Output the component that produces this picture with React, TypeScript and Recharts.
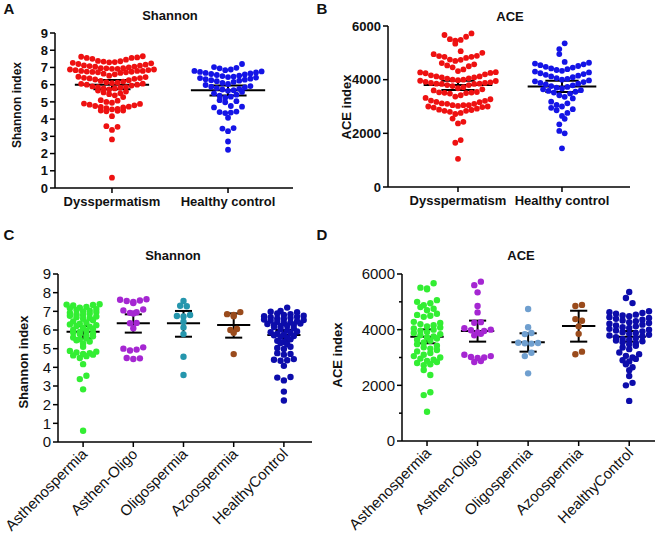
import React from 'react';
import { ScatterChart, Scatter, XAxis, YAxis, ReferenceLine } from 'recharts';

const FONT = '"Liberation Sans", Arial, Helvetica, sans-serif';

// ---------------- DATA ----------------
const topGroups = ['Dysspermatism', 'Healthy control'];
const bottomGroups = ['Asthenospermia', 'Asthen-Oligo', 'Oligospermia', 'Azoospermia', 'HealthyControl'];

// Shannon index per sub-group
const shannonAstheno = [
  7.38, 7.36, 7.34, 7.31,
  7.24, 7.2, 7.16, 7.12, 7.08, 7.04, 7.0, 6.96, 6.92, 6.88, 6.84, 6.8, 6.76, 6.72, 6.68, 6.64, 6.6,
  6.52, 6.46, 6.4, 6.34, 6.3, 6.26, 6.22, 6.18, 6.12, 6.06, 6.0, 5.95, 5.9, 5.86, 5.82, 5.78, 5.72, 5.66, 5.6, 5.55, 5.5, 5.45, 5.38,
  5.28, 5.1,
  4.88, 4.84, 4.8, 4.76, 4.72, 4.68, 4.64, 4.6,
  4.5, 4.17, 3.55, 3.37, 2.82, 0.6,
];
const shannonAsthenOligo = [
  7.65, 7.62, 7.58, 7.55, 7.5, 7.45,
  7.1, 7.05, 6.95, 6.92, 6.88,
  6.38, 6.36, 6.09,
  5.07, 5.0, 4.95, 4.9,
  4.5, 4.48, 4.45,
];
const shannonOligo = [7.55, 7.3, 7.27, 6.8, 6.75, 6.72, 6.44, 6.14, 5.78, 4.57, 3.59];
const shannonAzoo = [6.96, 6.85, 6.8, 6.74, 6.05, 6.0, 5.85, 4.71];
const shannonHealthy = [
  7.2, 7.02, 6.98, 6.95,
  6.88, 6.84, 6.8, 6.77, 6.74, 6.71, 6.68, 6.65, 6.62, 6.59, 6.56, 6.53, 6.5, 6.47, 6.44, 6.41, 6.38, 6.35, 6.32, 6.29, 6.26, 6.23, 6.2,
  6.16, 6.1, 6.04, 5.98, 5.92, 5.88, 5.84, 5.8, 5.76, 5.72, 5.68, 5.64, 5.58, 5.5, 5.42, 5.36, 5.3, 5.24,
  5.1, 5.04, 4.98,
  4.76, 4.72, 4.68,
  4.44, 4.41, 4.38, 4.35,
  4.08, 3.48, 3.45, 3.3, 2.7, 2.22,
];

// ACE index per sub-group
const aceAstheno = [
  5665, 5510, 5480, 5450,
  5060, 5000, 4950, 4880, 4810, 4750, 4700,
  4570, 4530, 4500, 4460,
  4280, 4240, 4200, 4160, 4120, 4080, 4040, 4000, 3960, 3920, 3880, 3840, 3800, 3760, 3720, 3680, 3640, 3600,
  3540, 3480, 3420, 3370, 3320, 3270, 3220, 3160, 3100, 3050, 3000, 2960, 2920, 2880, 2840, 2800, 2760, 2720,
  2550, 2370, 1750, 1650, 1050,
];
const aceAsthenOligo = [
  5725, 5600, 5340, 4850, 4620, 4270, 4250,
  4050, 4000, 3980, 3950, 3900, 3850, 3800,
  3100, 3050, 3000, 2980, 3020, 2870, 2840,
];
const aceOligo = [4740, 4085, 3880, 3840, 3520, 3510, 3530, 3500, 3050, 3170, 2430];
const aceAzoo = [4890, 4850, 4380, 4320, 4120, 3850, 3210, 3115];
const aceHealthy = [
  5355, 5140, 4955,
  4660, 4630, 4600, 4570, 4540, 4510, 4480, 4450, 4420, 4390, 4360, 4330, 4300, 4270, 4240, 4210, 4180, 4150, 4120,
  4090, 4060, 4030, 4000, 3970, 3940, 3910, 3880, 3850, 3820, 3790, 3760, 3730, 3700, 3670, 3640, 3610, 3580, 3550, 3520,
  3480, 3420, 3360, 3300,
  3180, 3120, 3060, 3000, 2950, 2900, 2860,
  2760, 2650, 2540,
  2335, 2090, 2000, 1440,
];

// Mean and 95% CI
const shannonTopMean = [6.0, 5.67];
const shannonTopLow = [5.73, 5.37];
const shannonTopHigh = [6.27, 5.95];
const aceTopMean = [3800, 3750];
const aceTopLow = [3615, 3540];
const aceTopHigh = [3960, 3960];
const shannonBottomMean = [5.9, 6.36, 6.36, 6.27, 5.73];
const shannonBottomLow = [5.55, 5.86, 5.64, 5.59, 5.41];
const shannonBottomHigh = [6.21, 6.84, 7.02, 6.89, 6.0];
const aceBottomMean = [3750, 3950, 3545, 4130, 3750];
const aceBottomLow = [3510, 3570, 3210, 3570, 3570];
const aceBottomHigh = [4010, 4325, 3870, 4680, 3950];

const shannonTicks = [0, 1, 2, 3, 4, 5, 6, 7, 8, 9];
const aceTicksTop = [0, 2000, 4000, 6000];
const aceTicksBottom = [0, 1000, 2000, 3000, 4000, 5000, 6000];

// ---------------- LAYOUT HELPERS ----------------
// Row-binned scatter (dot-plot) layout: values within binH pixels share a row,
// spread sideways with the lowest value in the middle.
function swarm(values: number[], group: number, pxPerY: number, pxPerX: number, spacing: number, binH: number) {
  const sorted = [...values].sort((a, b) => b - a);
  const rows: number[][] = [];
  let cur: number[] = [];
  for (const v of sorted) {
    if (cur.length && (cur[0] - v) * pxPerY > binH) {
      rows.push(cur);
      cur = [];
    }
    cur.push(v);
  }
  if (cur.length) rows.push(cur);
  const pts: { x: number; y: number }[] = [];
  rows.forEach((row, ri) => {
    const n = row.length;
    const slots = Array.from({ length: n }, (_, k) => (k - (n - 1) / 2) * spacing);
    const sgn = ri % 2 === 0 ? 1 : -1;
    slots.sort((a, b) => Math.abs(a) - Math.abs(b) || sgn * (a - b));
    const asc = [...row].sort((a, b) => a - b);
    asc.forEach((v, i) => pts.push({ x: group + slots[i] / pxPerX, y: v }));
  });
  return pts;
}

type PanelCfg = {
  left: number; top: number; width: number; height: number;
  yAxisW: number; xAxisH: number; mTop: number; mRight: number; mBottom: number;
  xDomain: [number, number]; yMax: number; yTicks: number[]; majorEvery: number;
  labels: string[]; rotated: boolean; bold: boolean; tickFont: number;
  dotR: number; spacing: number; binH: number; meanHalf: number; capHalf: number;
};

function Panel({ cfg, groups, colors, mean, low, high }: {
  cfg: PanelCfg; groups: number[][]; colors: string[]; mean: number[]; low: number[]; high: number[];
}) {
  const plotW = cfg.width - cfg.yAxisW - cfg.mRight;
  const plotH = cfg.height - cfg.mTop - cfg.mBottom - cfg.xAxisH;
  const pxPerX = plotW / (cfg.xDomain[1] - cfg.xDomain[0]);
  const pxPerY = plotH / cfg.yMax;
  const PL = cfg.yAxisW;
  const axisY = cfg.mTop + plotH;
  const weight = cfg.bold ? 'bold' : 'normal';

  const yTick = (p: any) => {
    const v = p.payload.value;
    const major = v % cfg.majorEvery === 0;
    return (
      <g>
        <line x1={PL} x2={PL - (major ? 5 : 3)} y1={p.y} y2={p.y} stroke="#000" strokeWidth={1.5} />
        {major && (
          <text x={PL - 7} y={p.y} dy="0.36em" textAnchor="end" fontFamily={FONT} fontSize={cfg.tickFont} fontWeight={weight} fill="#111">
            {v}
          </text>
        )}
      </g>
    );
  };
  const xTick = (p: any) => {
    const label = cfg.labels[p.payload.value];
    if (cfg.rotated) {
      const ax = p.x + 5;
      const ay = axisY + 13;
      return (
        <text x={ax} y={ay} textAnchor="end" transform={`rotate(-45, ${ax}, ${ay})`} fontFamily={FONT} fontSize={cfg.tickFont} fontWeight={weight} fill="#111">
          {label}
        </text>
      );
    }
    return (
      <text x={p.x} y={axisY + 8} dy="0.76em" textAnchor="middle" fontFamily={FONT} fontSize={13} fontWeight="bold" fill="#111">
        {label}
      </text>
    );
  };

  return (
    <div style={{ position: 'absolute', left: cfg.left, top: cfg.top }}>
      <ScatterChart width={cfg.width} height={cfg.height} margin={{ top: cfg.mTop, right: cfg.mRight, bottom: cfg.mBottom, left: 0 }}>
        <XAxis type="number" dataKey="x" domain={cfg.xDomain} ticks={cfg.labels.map((_, i) => i)} interval={0}
          height={cfg.xAxisH} tick={xTick} tickSize={5} tickLine={{ stroke: '#000', strokeWidth: 1.5 }}
          axisLine={{ stroke: '#000', strokeWidth: 1.5 }} allowDataOverflow />
        <YAxis type="number" dataKey="y" domain={[0, cfg.yMax]} ticks={cfg.yTicks} interval={0} width={cfg.yAxisW}
          tick={yTick} tickLine={false} axisLine={{ stroke: '#000', strokeWidth: 1.5 }} allowDataOverflow />
        {groups.map((vals, gi) => (
          <Scatter key={gi} data={swarm(vals, gi, pxPerY, pxPerX, cfg.spacing, cfg.binH)} fill={colors[gi]} isAnimationActive={false}
            shape={(sp: any) => <circle cx={sp.cx} cy={sp.cy} r={cfg.dotR} fill={colors[gi]} />} />
        ))}
        {mean.map((m, gi) => (
          <ReferenceLine key={'m' + gi} segment={[{ x: gi - cfg.meanHalf, y: m }, { x: gi + cfg.meanHalf, y: m }]} stroke="#000" strokeWidth={2} />
        ))}
        {mean.map((_, gi) => (
          <ReferenceLine key={'v' + gi} segment={[{ x: gi, y: low[gi] }, { x: gi, y: high[gi] }]} stroke="#000" strokeWidth={2} />
        ))}
        {mean.map((_, gi) => (
          <ReferenceLine key={'h' + gi} segment={[{ x: gi - cfg.capHalf, y: high[gi] }, { x: gi + cfg.capHalf, y: high[gi] }]} stroke="#000" strokeWidth={2} />
        ))}
        {mean.map((_, gi) => (
          <ReferenceLine key={'l' + gi} segment={[{ x: gi - cfg.capHalf, y: low[gi] }, { x: gi + cfg.capHalf, y: low[gi] }]} stroke="#000" strokeWidth={2} />
        ))}
      </ScatterChart>
    </div>
  );
}

function Txt({ x, y, children, size = 13, bold = true, rotate = false }: any) {
  return (
    <div style={{
      position: 'absolute', left: x, top: y, transform: `translate(-50%, -50%)${rotate ? ' rotate(-90deg)' : ''}`,
      fontFamily: FONT, fontSize: size, fontWeight: bold ? 'bold' : 'normal', whiteSpace: 'nowrap', color: '#111', lineHeight: 1,
    }}>{children}</div>
  );
}

const cfgA: PanelCfg = {
  left: 0, top: 0, width: 325, height: 225, yAxisW: 55, xAxisH: 30, mTop: 33, mRight: 32, mBottom: 7,
  xDomain: [-0.491, 1.56], yMax: 9, yTicks: shannonTicks, majorEvery: 1, labels: topGroups, rotated: false,
  bold: true, tickFont: 13, dotR: 2.9, spacing: 5.6, binH: 6.5, meanHalf: 0.32, capHalf: 0.16,
};
const cfgB: PanelCfg = {
  left: 325, top: 0, width: 330, height: 225, yAxisW: 63, xAxisH: 30, mTop: 26, mRight: 25, mBottom: 8,
  xDomain: [-0.673, 1.654], yMax: 6000, yTicks: aceTicksTop, majorEvery: 2000, labels: topGroups, rotated: false,
  bold: true, tickFont: 13, dotR: 2.9, spacing: 5.4, binH: 8.5, meanHalf: 0.33, capHalf: 0.16,
};
const cfgC: PanelCfg = {
  left: 0, top: 225, width: 325, height: 310, yAxisW: 58, xAxisH: 90, mTop: 49, mRight: 13, mBottom: 3,
  xDomain: [-0.5, 4.56], yMax: 9, yTicks: shannonTicks, majorEvery: 1, labels: bottomGroups, rotated: true,
  bold: false, tickFont: 15, dotR: 3.2, spacing: 6.6, binH: 3.4, meanHalf: 0.33, capHalf: 0.17,
};
const cfgD: PanelCfg = {
  left: 325, top: 225, width: 330, height: 310, yAxisW: 77, xAxisH: 90, mTop: 49, mRight: 0, mBottom: 4,
  xDomain: [-0.495, 4.51], yMax: 6000, yTicks: aceTicksBottom, majorEvery: 2000, labels: bottomGroups, rotated: true,
  bold: false, tickFont: 15, dotR: 3.2, spacing: 6.6, binH: 5.2, meanHalf: 0.33, capHalf: 0.17,
};

const topColors = ['#ee1111', '#1414e6'];
const shannonColors = ['#33ee33', '#a526d2', '#2596ad', '#9a4b1c', '#0c0cab'];
const aceColors = ['#33ee33', '#a526d2', '#6f9fcf', '#9a4b1c', '#0c0cab'];

export default function App() {
  const shannonPatients = [...shannonAstheno, ...shannonAsthenOligo, ...shannonOligo, ...shannonAzoo];
  const acePatients = [...aceAstheno, ...aceAsthenOligo, ...aceOligo, ...aceAzoo];
  return (
    <div style={{ position: 'absolute', left: 0, top: 0, width: 655, height: 535, background: '#fff', overflow: 'hidden' }}>
      <Panel cfg={cfgA} groups={[shannonPatients, shannonHealthy]} colors={topColors}
        mean={shannonTopMean} low={shannonTopLow} high={shannonTopHigh} />
      <Panel cfg={cfgB} groups={[acePatients, aceHealthy]} colors={topColors}
        mean={aceTopMean} low={aceTopLow} high={aceTopHigh} />
      <Panel cfg={cfgC} groups={[shannonAstheno, shannonAsthenOligo, shannonOligo, shannonAzoo, shannonHealthy]} colors={shannonColors}
        mean={shannonBottomMean} low={shannonBottomLow} high={shannonBottomHigh} />
      <Panel cfg={cfgD} groups={[aceAstheno, aceAsthenOligo, aceOligo, aceAzoo, aceHealthy]} colors={aceColors}
        mean={aceBottomMean} low={aceBottomLow} high={aceBottomHigh} />

      <Txt x={9} y={8} size={15}>A</Txt>
      <Txt x={322} y={8} size={15}>B</Txt>
      <Txt x={9} y={234} size={15}>C</Txt>
      <Txt x={322} y={234} size={15}>D</Txt>

      <Txt x={170} y={15}>Shannon</Txt>
      <Txt x={510} y={16}>ACE</Txt>
      <Txt x={173} y={255}>Shannon</Txt>
      <Txt x={521} y={255}>ACE</Txt>

      <Txt x={17} y={105} size={12} rotate>Shannon index</Txt>
      <Txt x={346} y={107} size={13} rotate>ACE index</Txt>
      <Txt x={23} y={362} size={13} rotate>Shannon index</Txt>
      <Txt x={337} y={355} size={13} rotate>ACE index</Txt>
    </div>
  );
}
